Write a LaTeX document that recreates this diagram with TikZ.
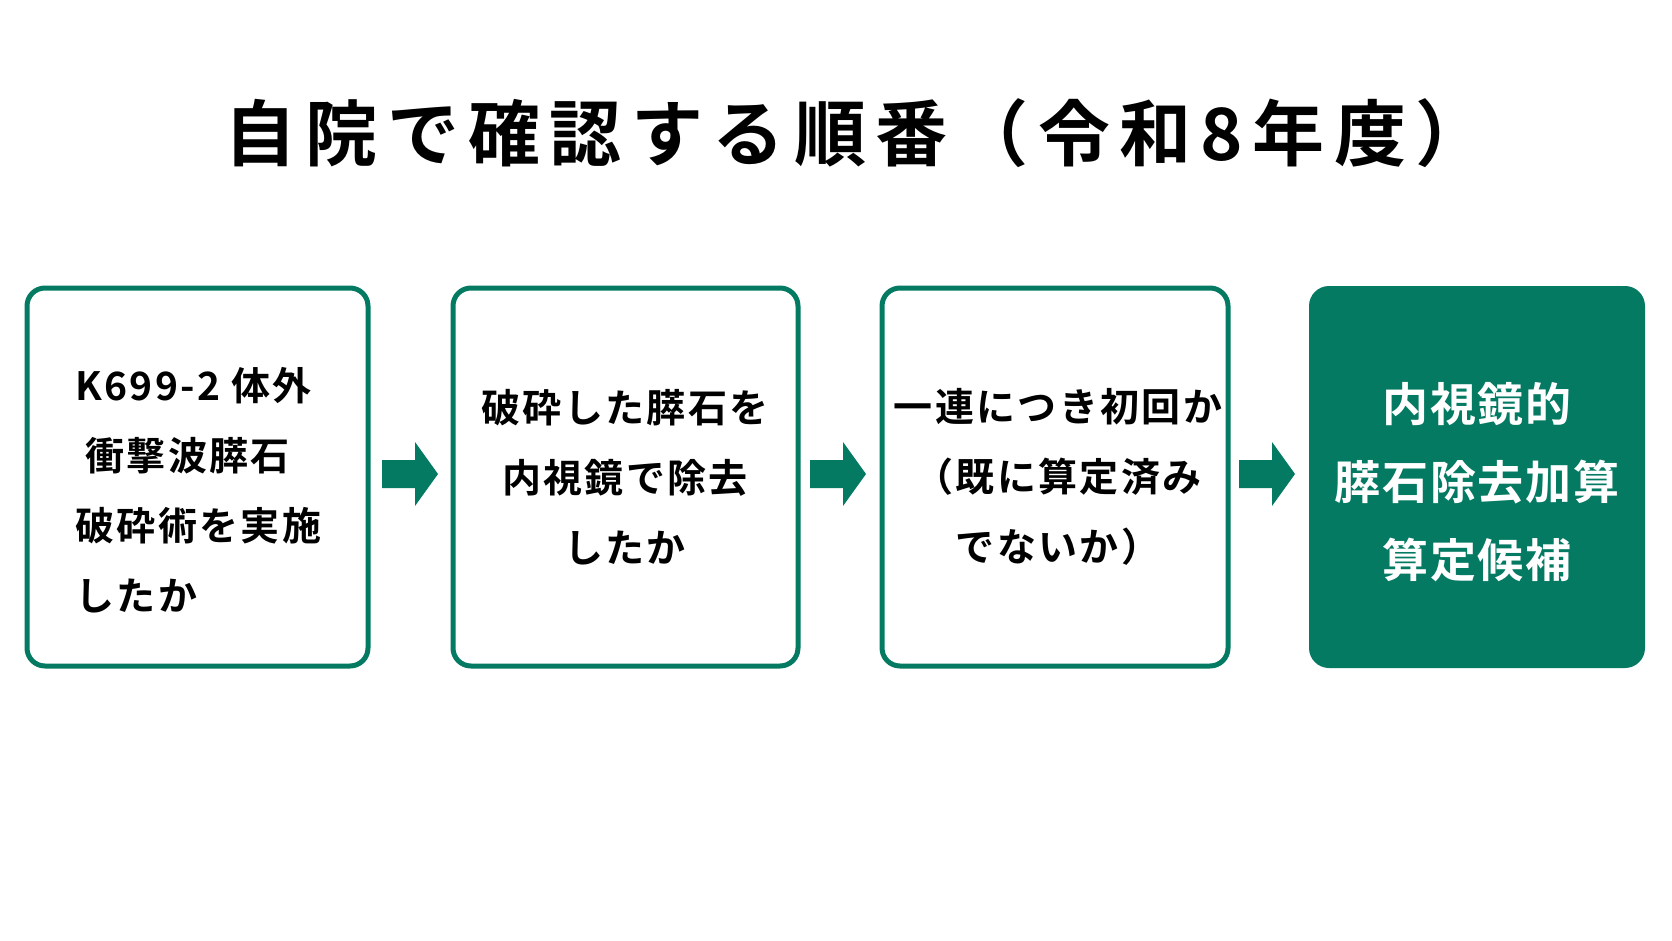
\documentclass[tikz,border=0pt]{standalone}
\usepackage{fontspec}
\setmainfont{Noto Sans CJK JP}[BoldFont={* Bold}]
\definecolor{grn}{HTML}{047A63}
\begin{document}
\begin{tikzpicture}[x=1pt,y=-1pt,
  box/.style={draw=grn,line width=5pt,rounded corners=18pt,fill=white},
  txt/.style={font=\fontsize{39}{70}\selectfont\bfseries\addfontfeature{LetterSpace=6},align=center,text=black},
  arr/.style={fill=grn,draw=none}]
\useasboundingbox[fill=white] (0,0) rectangle (1672,941);
\node[font=\fontsize{72}{80}\selectfont\bfseries\addfontfeature{LetterSpace=13}] (title) at (856,133) {自院で確認する順番（令和8年度）};
\draw[box] (27,288) rectangle (368,666);
\draw[box] (453,288) rectangle (798,666);
\draw[box] (882,288) rectangle (1228,666);
\fill[grn,rounded corners=20pt] (1309,286) rectangle (1645,668);
\node[txt,align=left,anchor=west] (t1) at (72,490) {K699-2 体外\\\hspace{10pt}衝撃波膵石\\破砕術を実施\\したか};
\node[txt] (t2) at (625,477) {破砕した膵石を\\内視鏡で除去\\したか};
\node[txt] (t3) at (1058,477) {一連につき初回か\\（既に算定済み\\でないか）};
\node[txt,text=white,font=\fontsize{46}{78}\selectfont\bfseries\addfontfeature{LetterSpace=4}] (t4) at (1477,482) {内視鏡的\\膵石除去加算\\算定候補};
\foreach \x in {382,810,1239}{
  \fill[grn] (\x,460) -- (\x+33,460) -- (\x+33,442) -- (\x+56,474) -- (\x+33,506) -- (\x+33,488) -- (\x,488) -- cycle;}
\end{tikzpicture}
\end{document}
